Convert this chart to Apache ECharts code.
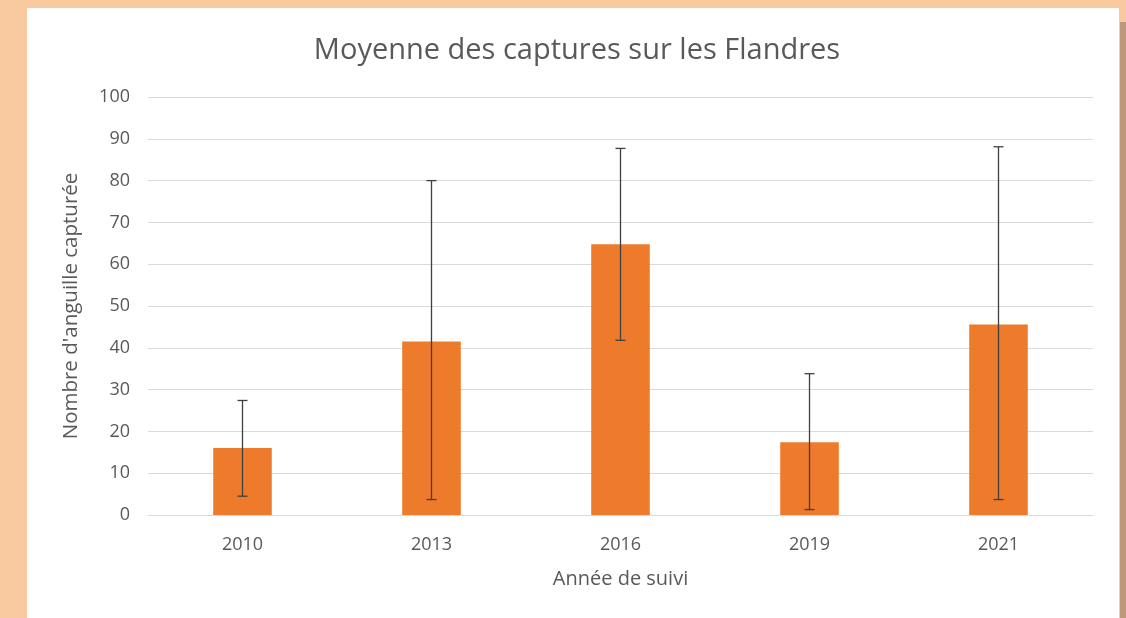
<!DOCTYPE html>
<html>
<head>
<meta charset="utf-8">
<script src="https://cdn.jsdelivr.net/npm/echarts@6/dist/echarts.min.js"></script>
<style>
  html, body { margin: 0; padding: 0; background: #f9c9a0; }
  #chart { width: 1126px; height: 618px; }
</style>
</head>
<body>
<div id="chart"></div>
<script>
// Années de suivi et moyennes des captures d'anguilles
const years = ['2010', '2013', '2016', '2019', '2021'];
const meanCatch = [16, 41.5, 64.8, 17.4, 45.6];
// Bornes basse et haute des barres d'erreur
const lowCatch = [4.5, 3.7, 41.8, 1.3, 3.7];
const highCatch = [27.4, 80, 87.7, 33.8, 88.1];
const yTicks = { min: 0, max: 100, interval: 10 };

const textColor = '#595959';
const fontFamily = '"Open Sans", "Liberation Sans", sans-serif';

const chart = echarts.init(document.getElementById('chart'), null, { renderer: 'canvas' });

const errorData = years.map((y, i) => [i, lowCatch[i], highCatch[i]]);

chart.setOption({
  backgroundColor: '#f9c9a0',
  animation: false,
  graphic: [
    { type: 'rect', z: -10, silent: true, shape: { x: 27, y: 8, width: 1092, height: 610 }, style: { fill: '#ffffff' } },
    { type: 'rect', z: -10, silent: true, shape: { x: 1120, y: 22, width: 6, height: 596 }, style: { fill: '#bf977a' } }
  ],
  title: {
    text: 'Moyenne des captures sur les Flandres',
    left: 572,
    textAlign: 'center',
    top: 31,
    textStyle: { color: textColor, fontFamily: fontFamily, fontSize: 29, fontWeight: 'normal' }
  },
  grid: { left: 148, right: 33, top: 97, bottom: 103 },
  xAxis: {
    type: 'category',
    data: years,
    name: 'Année de suivi',
    nameLocation: 'middle',
    nameGap: 54,
    nameTextStyle: { color: textColor, fontFamily: fontFamily, fontSize: 20 },
    axisLine: { show: true, lineStyle: { color: '#d9d9d9', width: 1 } },
    axisTick: { show: false },
    axisLabel: { color: textColor, fontFamily: fontFamily, fontSize: 18, margin: 21 }
  },
  yAxis: {
    type: 'value',
    min: yTicks.min,
    max: yTicks.max,
    interval: yTicks.interval,
    name: "Nombre d'anguille capturée",
    nameLocation: 'middle',
    nameGap: 66,
    nameRotate: 90,
    nameTextStyle: { color: textColor, fontFamily: fontFamily, fontSize: 20.5 },
    axisLine: { show: false },
    axisTick: { show: false },
    axisLabel: { color: textColor, fontFamily: fontFamily, fontSize: 18, margin: 18 },
    splitLine: { lineStyle: { color: '#d9d9d9', width: 1 } }
  },
  series: [
    {
      type: 'bar',
      data: meanCatch,
      barWidth: '31%',
      itemStyle: { color: '#ee7b2c' }
    },
    {
      type: 'custom',
      data: errorData,
      z: 10,
      renderItem: function (params, api) {
        const idx = api.value(0);
        const lo = api.coord([idx, api.value(1)]);
        const hi = api.coord([idx, api.value(2)]);
        const half = 5;
        const style = { stroke: '#3f3f3f', lineWidth: 1.3 };
        return {
          type: 'group',
          children: [
            { type: 'line', shape: { x1: lo[0], y1: lo[1], x2: hi[0], y2: hi[1] }, style: style },
            { type: 'line', shape: { x1: hi[0] - half, y1: hi[1], x2: hi[0] + half, y2: hi[1] }, style: style },
            { type: 'line', shape: { x1: lo[0] - half, y1: lo[1], x2: lo[0] + half, y2: lo[1] }, style: style }
          ]
        };
      }
    }
  ]
});
</script>
</body>
</html>
